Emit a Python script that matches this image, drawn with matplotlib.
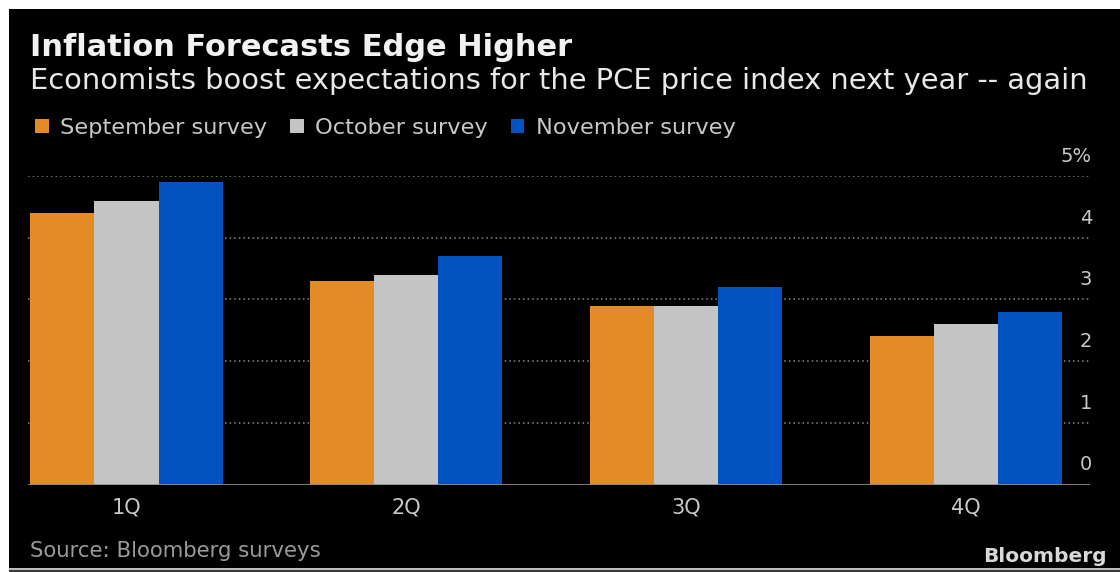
import matplotlib
matplotlib.use("Agg")
import matplotlib.pyplot as plt
import matplotlib.patches as patches
import matplotlib.transforms as mtransforms
import numpy as np

# survey data, PCE price index forecasts (%)
quarters = ["1Q", "2Q", "3Q", "4Q"]
september = [4.4, 3.3, 2.9, 2.4]
october = [4.6, 3.4, 2.9, 2.6]
november = [4.9, 3.7, 3.2, 2.8]
series_names = ["September survey", "October survey", "November survey"]
y_ticks = [0, 1, 2, 3, 4, 5]
y_labels = ["0", "1", "2", "3", "4", "5%"]

colors = ["#E38B26", "#C4C4C4", "#0352C2"]
W, H = 1120, 572

fig = plt.figure(figsize=(W / 100, H / 100), dpi=100)
fig.patch.set_facecolor("white")

# black panel with a thin border strip at the bottom
fig.add_artist(patches.Rectangle((9 / W, 4 / H), 1 - 9 / W, 1 - 13 / H,
                                 transform=fig.transFigure, facecolor="black",
                                 edgecolor="none", zorder=0))
fig.add_artist(patches.Rectangle((9 / W, 2 / H), 1 - 9 / W, 2 / H,
                                 transform=fig.transFigure, facecolor="#BDBDBD",
                                 edgecolor="none", zorder=0))
fig.add_artist(patches.Rectangle((9 / W, 0), 1 - 9 / W, 2 / H,
                                 transform=fig.transFigure, facecolor="#3A3A3A",
                                 edgecolor="none", zorder=0))

ax = fig.add_axes([28 / W, (H - 484.5) / H, 1062 / W, 308.5 / H])
ax.set_facecolor("none")

x = np.arange(len(quarters))
width = 0.229
for i, (vals, name) in enumerate(zip([september, october, november], series_names)):
    ax.bar(x + (i - 1) * width, vals, width, color=colors[i], label=name,
           zorder=3, linewidth=0)

ax.set_xlim(-0.352, 3.443)
ax.set_ylim(0, 5)

for s in ax.spines.values():
    s.set_visible(False)
ax.axhline(0, color="#8C8C8C", linewidth=2, zorder=4)
for t in y_ticks[1:]:
    ax.axhline(t, color="#8A8A8A", linewidth=1.1, linestyle=(0, (1.0, 2.0)), zorder=1)

ax.set_yticks([])
ax.set_xticks(x)
ax.set_xticklabels(quarters, color="#C8C8C8", fontsize=15)
ax.tick_params(axis="x", length=0, pad=9)

label_tr = mtransforms.offset_copy(ax.get_yaxis_transform(), fig=fig, x=0, y=10, units="dots")
for t, lab in zip(y_ticks, y_labels):
    ax.text(1.002, t, lab, transform=label_tr, ha="right", va="bottom",
            color="#C8C8C8", fontsize=14)

fig.text(30 / W, 1 - 47 / H, "Inflation Forecasts Edge Higher", color="#F2F2F2",
         fontsize=22, fontweight="bold", va="center", ha="left")
fig.text(30 / W, 1 - 81 / H,
         "Economists boost expectations for the PCE price index next year -- again",
         color="#E8E8E8", fontsize=20.8, va="center", ha="left")

fig.legend(loc="center left", bbox_to_anchor=(26 / W, 1 - 128 / H), ncol=3,
           frameon=False, fontsize=16.2, labelcolor="#C8C8C8",
           handlelength=0.62, handleheight=0.62, handletextpad=0.5,
           columnspacing=1.0, borderaxespad=0)

fig.text(30 / W, 1 - 551 / H, "Source: Bloomberg surveys", color="#9A9A9A",
         fontsize=15.3, va="center", ha="left")
fig.text(1107 / W, 1 - 557 / H, "Bloomberg", color="#D8D8D8",
         fontsize=14.5, fontweight="bold", va="center", ha="right")

fig.savefig("out.png", dpi=100, facecolor=fig.get_facecolor())
